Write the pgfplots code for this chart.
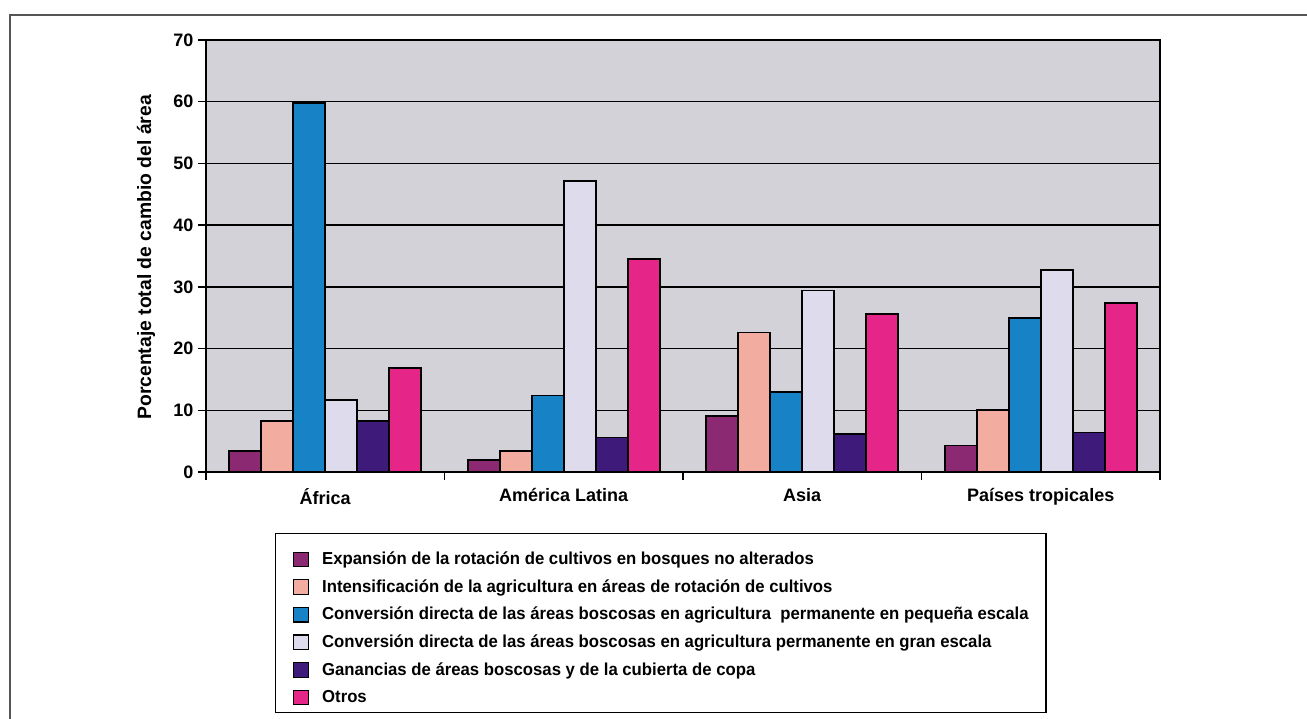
\documentclass[border=0pt]{standalone}
\usepackage{pgfplots}
\pgfplotsset{compat=1.18}
\usepackage{fontspec}
\setmainfont{Liberation Sans}
\newfontfamily\narrowfont[FakeStretch=0.965]{Liberation Sans}

\definecolor{cExp}{HTML}{8B2A72}
\definecolor{cInt}{HTML}{F2ADA0}
\definecolor{cPeq}{HTML}{1782C5}
\definecolor{cGran}{HTML}{DEDCEC}
\definecolor{cGan}{HTML}{3E1A7A}
\definecolor{cOtr}{HTML}{E52587}
\definecolor{cBack}{HTML}{D3D2D8}
\definecolor{cFrame}{HTML}{555555}

% Regions: 0 Africa, 1 America Latina, 2 Asia, 3 Paises tropicales
\pgfplotstableread{
x  exp  int  peq  gran  gan  otr
0  3.4  8.2  59.8 11.6  8.2  16.9
1  1.9  3.4  12.4 47.1  5.6  34.5
2  9.1  22.6 12.9 29.4  6.1  25.6
3  4.3  10.0 25.0 32.7  6.4  27.4
}\datatable

\begin{document}
\begin{tikzpicture}
\path[use as bounding box] (-154.5pt,-184.5pt) rectangle (825.75pt,354pt);
\draw[cFrame, line width=1.5pt] (-147pt,-190pt) -- (-147pt,342.75pt) -- (830pt,342.75pt);
\begin{axis}[
  at={(0pt,0pt)}, anchor=south west,
  scale only axis,
  width=715.5pt, height=324pt,
  font=\bfseries\fontsize{13.5}{15}\selectfont,
  /pgf/number format/assume math mode=true,
  axis background/.style={fill=cBack},
  axis line style={line width=1.4pt},
  ymin=0, ymax=70, ytick={0,10,...,70},
  ymajorgrids, grid style={black, line width=1.1pt},
  xmin=-0.5, xmax=3.5,
  xtick={-0.5,0.5,1.5,2.5,3.5},
  x tick label as interval,
  xticklabels={África, América Latina, Asia, Países tropicales},
  tick align=outside, major tick length=6pt,
  tick style={black, line width=1.1pt},
  xtick pos=bottom, ytick pos=left,
  xticklabel style={yshift=-3pt},
  ylabel={Porcentaje total de cambio del área},
  ylabel style={at={(axis description cs:-0.0629,0.497)}, anchor=center, font=\bfseries\fontsize{14.5}{16}\selectfont},
  ybar=0pt, bar width=24pt,
  legend cell align=left,
  legend image code/.code={\draw[#1, draw=black, line width=0.9pt] (0pt,-9.5pt) rectangle (11.25pt,1.5pt);},
  legend style={
    at={(axis description cs:0.0723,-0.1412)}, anchor=north west,
    draw=black, line width=1pt, fill=white,
    font=\narrowfont\bfseries\fontsize{13}{15}\selectfont,
    inner xsep=13pt, inner ysep=5pt,
    row sep=0pt,
    nodes={inner sep=0pt, text height=18.3pt, text depth=2.4pt},
    /tikz/every odd column/.append style={column sep=9.75pt},
  },
]
\addplot[fill=cExp,  draw=black, line width=1.4pt] table[x=x, y=exp]  {\datatable};
\addplot[fill=cInt,  draw=black, line width=1.4pt] table[x=x, y=int]  {\datatable};
\addplot[fill=cPeq,  draw=black, line width=1.4pt] table[x=x, y=peq]  {\datatable};
\addplot[fill=cGran, draw=black, line width=1.4pt] table[x=x, y=gran] {\datatable};
\addplot[fill=cGan,  draw=black, line width=1.4pt] table[x=x, y=gan]  {\datatable};
\addplot[fill=cOtr,  draw=black, line width=1.4pt] table[x=x, y=otr]  {\datatable};
\legend{Expansión de la rotación de cultivos en bosques no alterados,
Intensificación de la agricultura en áreas de rotación de cultivos,
Conversión directa de las áreas boscosas en agricultura\ \ permanente en pequeña escala,
Conversión directa de las áreas boscosas en agricultura permanente en gran escala,
Ganancias de áreas boscosas y de la cubierta de copa,
Otros}
\end{axis}
\end{tikzpicture}
\end{document}
